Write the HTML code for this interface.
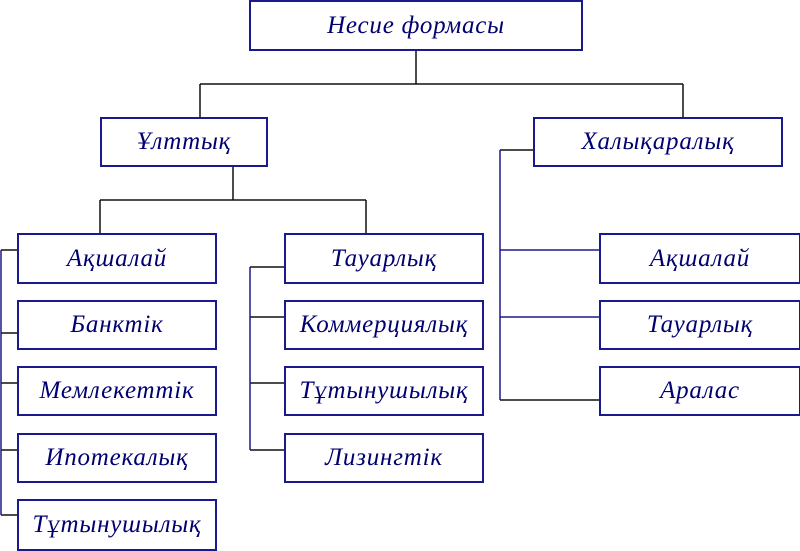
<!DOCTYPE html>
<html><head><meta charset="utf-8"><style>
body{margin:0;width:800px;height:548px;background:#fff;position:relative;overflow:hidden}
.b{position:absolute;box-sizing:border-box;border:2px solid #1a1a8c;background:#fff;display:flex;align-items:center;justify-content:center;font:italic 25px "Liberation Serif",serif;color:#000070;letter-spacing:0.8px}
svg{position:absolute;left:0;top:0}
</style></head><body>
<svg width="800" height="548" stroke-width="1.5" fill="none">
<g stroke="#111">
<path d="M416 50V84M200 84H683M200 84V117M683 84V117"/>
<path d="M233 166V200M100 200H366M100 200V233M366 200V233"/>
<path d="M1 250H17M1 333H17M1 383H17M1 450H17M1 515H17"/>
<path d="M250 317H284M250 383H284M250 450H284M250 267H284"/>
<path d="M500 150H533M500 400H599"/>
</g>
<g stroke="#1a1a8c">
<path d="M1 250V515M250 267V450M500 150V400M500 250H599M500 317H599"/>
</g>
</svg>
<div class="b" style="left:249px;top:0;width:334px;height:51px">Несие формасы</div>
<div class="b" style="left:100px;top:117px;width:168px;height:50px">Ұлттық</div>
<div class="b" style="left:533px;top:117px;width:250px;height:50px">Халықаралық</div>
<div class="b" style="left:17px;top:233px;width:200px;height:51px">Ақшалай</div>
<div class="b" style="left:17px;top:300px;width:200px;height:50px">Банктік</div>
<div class="b" style="left:17px;top:366px;width:200px;height:50px">Мемлекеттік</div>
<div class="b" style="left:17px;top:433px;width:200px;height:50px">Ипотекалық</div>
<div class="b" style="left:17px;top:499px;width:200px;height:52px">Тұтынушылық</div>
<div class="b" style="left:284px;top:233px;width:200px;height:51px">Тауарлық</div>
<div class="b" style="left:284px;top:300px;width:200px;height:50px">Коммерциялық</div>
<div class="b" style="left:284px;top:366px;width:200px;height:50px">Тұтынушылық</div>
<div class="b" style="left:284px;top:433px;width:200px;height:50px">Лизингтік</div>
<div class="b" style="left:599px;top:233px;width:202px;height:51px">Ақшалай</div>
<div class="b" style="left:599px;top:300px;width:202px;height:50px">Тауарлық</div>
<div class="b" style="left:599px;top:366px;width:202px;height:50px">Аралас</div>
</body></html>
